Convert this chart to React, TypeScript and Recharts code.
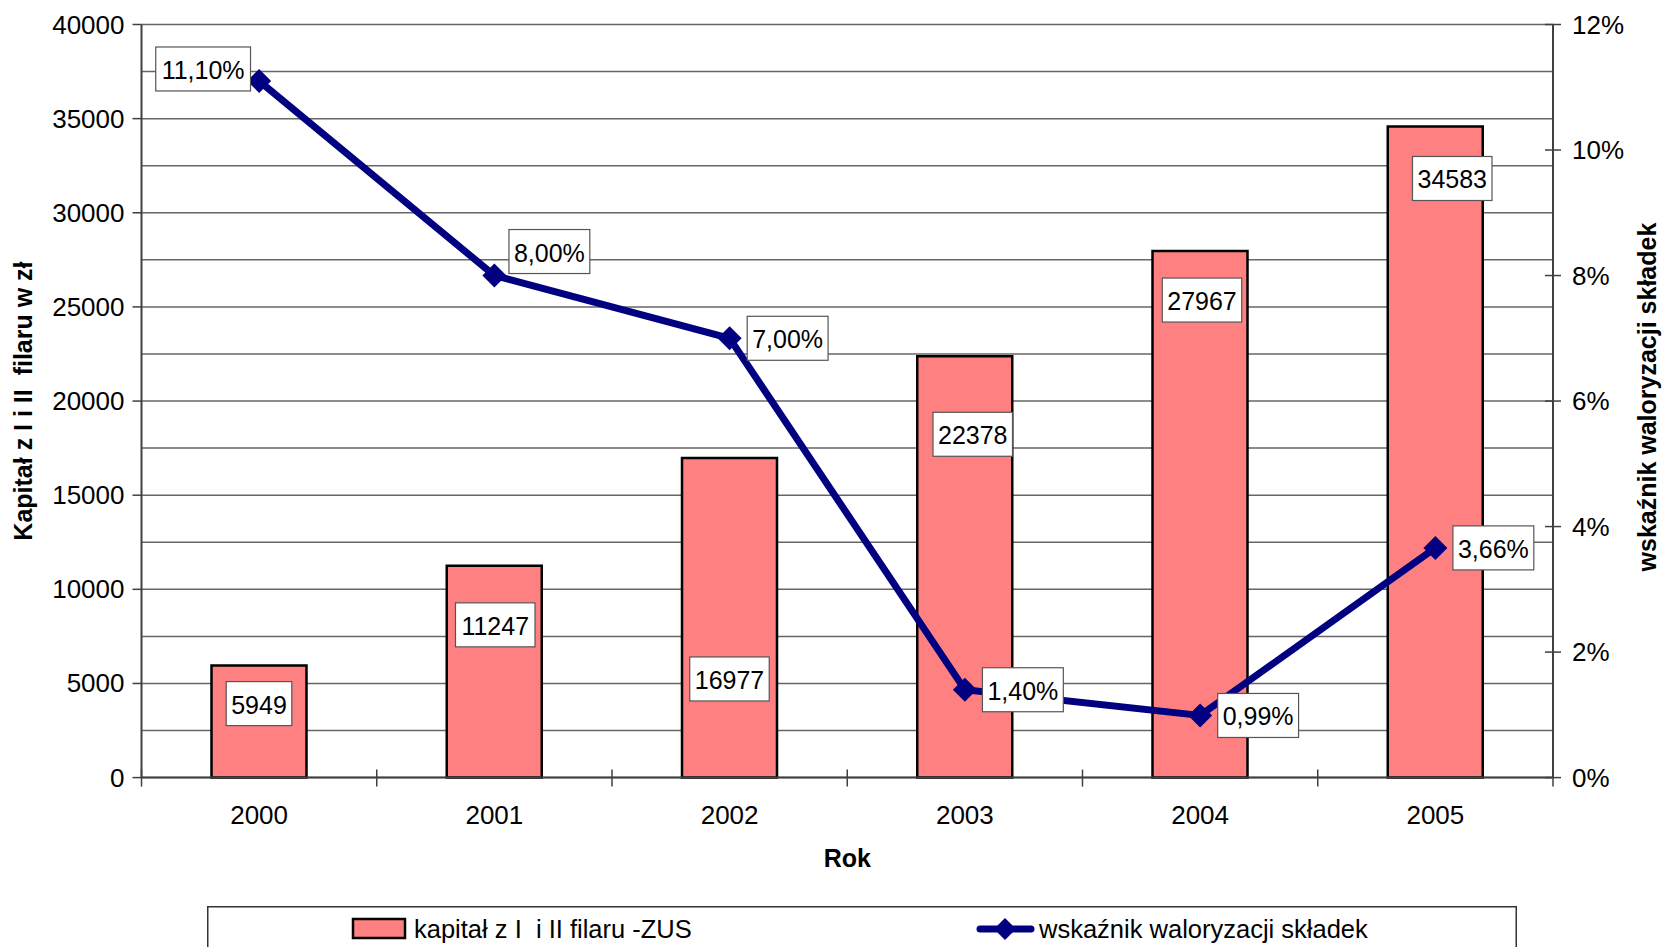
import React from "react";
import {
  ComposedChart,
  Bar,
  Line,
  XAxis,
  YAxis,
  CartesianGrid,
  LabelList,
  Legend,
} from "recharts";

const YEARS = ["2000", "2001", "2002", "2003", "2004", "2005"];
const KAPITAL = [5949, 11247, 16977, 22378, 27967, 34583];
const WSKAZNIK = [11.1, 8.0, 7.0, 1.4, 0.99, 3.66];

const LEFT_TICKS = [0, 5000, 10000, 15000, 20000, 25000, 30000, 35000, 40000];
const RIGHT_TICKS = [0, 2, 4, 6, 8, 10, 12];
const GRID_VALUES = [
  0, 2500, 5000, 7500, 10000, 12500, 15000, 17500, 20000, 22500, 25000, 27500,
  30000, 32500, 35000, 37500, 40000,
];

const BAR_NAME = "kapitał z I  i II filaru -ZUS";
const LINE_NAME = "wskaźnik waloryzacji składek";
const LEFT_TITLE = "Kapitał z I i II  filaru w zł";
const X_TITLE = "Rok";

// label boxes were dragged by hand in the original, keep their offsets (px)
const BAR_LABEL_DX = [0, 1, 0, 8, 2, 17];
const BAR_LABEL_DY = [38, 59, 221, 78, 49, 52];
const LINE_LABEL_DX = [-56, 55, 58, 58, 58, 58];
const LINE_LABEL_DY = [-12, -24, 0, 0, 0, 0];

const FONT = '"Liberation Sans", Arial, sans-serif';
const NAVY = "#000080";
const PINK = "#FF8080";
const FS = 25;
const TICK_FS = 26;

const data = YEARS.map((year, i) => ({
  year,
  kapital: KAPITAL[i],
  wskaznik: WSKAZNIK[i],
}));

const fmtPct = (v: number) => v.toFixed(2).replace(".", ",") + "%";

function textWidth(s: string) {
  let w = 0;
  for (const ch of s) {
    if (ch === ",") w += 0.278;
    else if (ch === "%") w += 0.889;
    else w += 0.556;
  }
  return w * FS;
}

function BoxLabel({ cx, cy, text }: { cx: number; cy: number; text: string }) {
  const w = textWidth(text) + 10;
  return (
    <g>
      <rect
        x={cx - w / 2}
        y={cy - 22}
        width={w}
        height={44}
        fill="#fff"
        stroke="#555"
        strokeWidth={1.2}
      />
      <text
        x={cx}
        y={cy + 1}
        textAnchor="middle"
        dominantBaseline="central"
        fontSize={FS}
        fontFamily={FONT}
        fill="#000"
      >
        {text}
      </text>
    </g>
  );
}

function renderBarLabel(props: any) {
  const { x, y, width, value, index } = props;
  return (
    <BoxLabel
      key={`bl-${index}`}
      cx={x + width / 2 + BAR_LABEL_DX[index]}
      cy={y + BAR_LABEL_DY[index]}
      text={String(value)}
    />
  );
}

function renderLineLabel(props: any) {
  const { x, y, value, index } = props;
  return (
    <BoxLabel
      key={`ll-${index}`}
      cx={x + LINE_LABEL_DX[index]}
      cy={y + LINE_LABEL_DY[index]}
      text={fmtPct(value)}
    />
  );
}

function renderDiamond(props: any) {
  const { cx, cy, index } = props;
  const r = 12;
  return (
    <path
      key={`d-${index}`}
      d={`M${cx},${cy - r}L${cx + r},${cy}L${cx},${cy + r}L${cx - r},${cy}Z`}
      fill={NAVY}
    />
  );
}

function LeftTick(props: any) {
  const { x, y, payload } = props;
  return (
    <g>
      <line x1={x - 9} x2={x} y1={y} y2={y} stroke="#404040" strokeWidth={1.5} />
      <text
        x={x - 17}
        y={y}
        textAnchor="end"
        dominantBaseline="central"
        fontSize={TICK_FS}
        fontFamily={FONT}
        fill="#000"
      >
        {payload.value}
      </text>
    </g>
  );
}

function RightTick(props: any) {
  const { x, y, payload } = props;
  return (
    <g>
      <line x1={x - 8} x2={x + 8} y1={y} y2={y} stroke="#404040" strokeWidth={1.5} />
      <text
        x={x + 19}
        y={y}
        textAnchor="start"
        dominantBaseline="central"
        fontSize={TICK_FS}
        fontFamily={FONT}
        fill="#000"
      >
        {payload.value}%
      </text>
    </g>
  );
}

function BottomTick(props: any) {
  const { x, y, payload, index } = props;
  const half = payload.offset || 1411 / YEARS.length / 2;
  return (
    <g>
      <line x1={x - half} x2={x - half} y1={y - 8} y2={y + 9} stroke="#404040" strokeWidth={1.5} />
      {index === YEARS.length - 1 && (
        <line x1={x + half} x2={x + half} y1={y - 8} y2={y + 9} stroke="#404040" strokeWidth={1.5} />
      )}
      <text
        x={x}
        y={y + 37}
        textAnchor="middle"
        dominantBaseline="central"
        fontSize={TICK_FS}
        fontFamily={FONT}
        fill="#000"
      >
        {payload.value}
      </text>
    </g>
  );
}

function titleStyle() {
  return { fontSize: 25, fontFamily: FONT, fontWeight: 700, fill: "#000", whiteSpace: "pre" as const };
}

function LegendBox() {
  return (
    <svg width={1310} height={41} style={{ display: "block" }}>
      <rect x={0.75} y={0.75} width={1308.5} height={80} fill="#fff" stroke="#333" strokeWidth={1.5} />
      <rect x={146} y={13} width={52} height={19} fill={PINK} stroke="#000" strokeWidth={2.5} />
      <text x={207} y={23} dominantBaseline="central" fontSize={25.5} fontFamily={FONT} fill="#000" style={{ whiteSpace: "pre" }}>
        {BAR_NAME}
      </text>
      <line x1={773} x2={824} y1={23} y2={23} stroke={NAVY} strokeWidth={7} strokeLinecap="round" />
      <path d="M798,12L809,23L798,34L787,23Z" fill={NAVY} />
      <text x={832} y={23} dominantBaseline="central" fontSize={25.5} fontFamily={FONT} fill="#000">
        {LINE_NAME}
      </text>
    </svg>
  );
}

export default function App() {
  return (
    <div style={{ width: 1668, height: 947, overflow: "hidden", background: "#fff" }}>
      <style>{"body{margin:0}"}</style>
      <ComposedChart
        width={1668}
        height={947}
        data={data}
        margin={{ top: 24.5, right: 0, bottom: 0, left: 0 }}
      >
        <CartesianGrid
          yAxisId="left"
          vertical={false}
          horizontalValues={GRID_VALUES}
          stroke="#666"
          strokeWidth={1.5}
        />
        <XAxis
          dataKey="year"
          height={169.4}
          tickSize={0}
          tickMargin={0}
          interval={0}
          tickLine={false}
          axisLine={{ stroke: "#404040", strokeWidth: 2 }}
          tick={(p: any) => <BottomTick {...p} />}
          label={(p: any) => {
            const vb = p.viewBox;
            return (
              <text x={vb.x + vb.width / 2} y={vb.y + 89} textAnchor="middle" style={titleStyle()}>
                {X_TITLE}
              </text>
            );
          }}
        />
        <YAxis
          yAxisId="left"
          orientation="left"
          width={141.5}
          domain={[0, 40000]}
          ticks={LEFT_TICKS}
          interval={0}
          tickSize={0}
          tickMargin={0}
          tickLine={false}
          axisLine={{ stroke: "#404040", strokeWidth: 2 }}
          tick={(p: any) => <LeftTick {...p} />}
          label={(p: any) => {
            const vb = p.viewBox;
            const cy = vb.y + vb.height / 2;
            return (
              <text
                transform={`translate(${vb.x + 23},${cy}) rotate(-90)`}
                textAnchor="middle"
                dominantBaseline="central"
                style={titleStyle()}
              >
                {LEFT_TITLE}
              </text>
            );
          }}
        />
        <YAxis
          yAxisId="right"
          orientation="right"
          width={115}
          domain={[0, 12]}
          ticks={RIGHT_TICKS}
          interval={0}
          tickSize={0}
          tickMargin={0}
          tickLine={false}
          axisLine={{ stroke: "#404040", strokeWidth: 2 }}
          tick={(p: any) => <RightTick {...p} />}
          label={(p: any) => {
            const vb = p.viewBox;
            const cy = vb.y + vb.height / 2 - 4;
            return (
              <text
                transform={`translate(${vb.x + 94},${cy}) rotate(-90)`}
                textAnchor="middle"
                dominantBaseline="central"
                style={titleStyle()}
              >
                {LINE_NAME}
              </text>
            );
          }}
        />
        <Legend
          layout="horizontal"
          verticalAlign="middle"
          align="center"
          wrapperStyle={{ left: 207, top: 906, width: 1310, height: 41 }}
          content={() => <LegendBox />}
        />
        <Bar
          yAxisId="left"
          dataKey="kapital"
          name={BAR_NAME}
          fill={PINK}
          stroke="#000"
          strokeWidth={2.5}
          barSize={95}
          isAnimationActive={false}
        >
          <LabelList dataKey="kapital" content={renderBarLabel} />
        </Bar>
        <Line
          yAxisId="right"
          dataKey="wskaznik"
          name={LINE_NAME}
          stroke={NAVY}
          strokeWidth={7}
          dot={renderDiamond}
          activeDot={false}
          isAnimationActive={false}
        >
          <LabelList dataKey="wskaznik" content={renderLineLabel} />
        </Line>
      </ComposedChart>
    </div>
  );
}
